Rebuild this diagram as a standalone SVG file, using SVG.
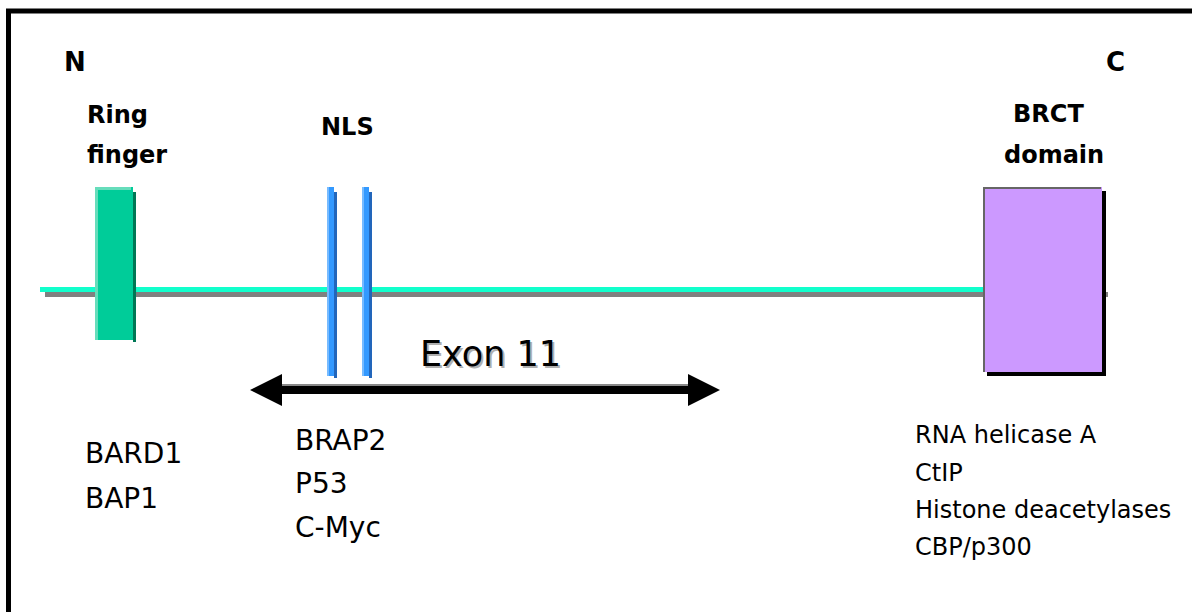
<svg xmlns="http://www.w3.org/2000/svg" width="1192" height="612" viewBox="0 0 1192 612">
  <style>
    .lbl { font-family: "DejaVu Sans", "Liberation Sans", sans-serif; font-weight: bold; font-size: 24px; fill: #000; }
    .nc { font-family: "DejaVu Sans", "Liberation Sans", sans-serif; font-weight: bold; font-size: 26px; fill: #000; }
    .big { font-family: "DejaVu Sans", "Liberation Sans", sans-serif; font-size: 28px; fill: #000; }
    .small { font-family: "DejaVu Sans", "Liberation Sans", sans-serif; font-size: 24px; fill: #000; }
    .exon { font-family: "DejaVu Sans", "Liberation Sans", sans-serif; font-size: 35px; fill: #000; }
    .shadow { fill: #b0b0b0; }
  </style>
  <defs>
    <marker id="head" viewBox="0 0 32 32" refX="2" refY="16" markerWidth="32" markerHeight="32" markerUnits="userSpaceOnUse" orient="auto-start-reverse">
      <path d="M0,0 L32,16 L0,32 Z" fill="#000"/>
    </marker>
  </defs>
  <rect width="1192" height="612" fill="#fff"/>
  <rect x="8.5" y="11" width="1200" height="700" fill="none" stroke="#000" stroke-width="5"/>

  <g id="backbone">
    <rect x="45" y="292" width="1063" height="5" fill="#808080"/>
    <rect x="40" y="287" width="945" height="5" fill="#11ffcc"/>
  </g>

  <g id="ring-finger">
    <rect x="133" y="192" width="3" height="150" fill="#007755"/>
    <rect x="95" y="187" width="38" height="153" fill="#00cc99"/>
    <rect x="95" y="187" width="3" height="153" fill="#66ddbb"/>
    <rect x="95" y="187" width="36" height="3" fill="#66ddbb"/>
    <text class="lbl" x="87" y="123">Ring</text>
    <text class="lbl" x="87" y="163">finger</text>
  </g>

  <g id="nls">
    <rect x="334" y="192" width="3" height="186" fill="#2266bb"/>
    <rect x="327" y="187" width="7" height="189" fill="#3399ff"/>
    <rect x="327" y="187" width="2" height="189" fill="#77bbff"/>
    <rect x="369" y="192" width="3" height="186" fill="#2266bb"/>
    <rect x="362" y="187" width="7" height="189" fill="#3399ff"/>
    <rect x="362" y="187" width="2" height="189" fill="#77bbff"/>
    <text class="lbl" x="321" y="135">NLS</text>
  </g>

  <g id="brct">
    <rect x="987" y="191" width="119" height="185" fill="#000"/>
    <rect x="983" y="187" width="119" height="185" fill="#cc99ff"/>
    <path d="M984,372 L984,188 L1101,188" fill="none" stroke="#666" stroke-width="2"/>
    <text class="lbl" x="1013" y="122">BRCT</text>
    <text class="lbl" x="1004" y="163">domain</text>
  </g>

  <g id="terminals">
    <text class="nc" x="64" y="71">N</text>
    <text class="nc" x="1106" y="71">C</text>
  </g>

  <g id="connectors">
    <line x1="278" y1="388" x2="692" y2="388" stroke="#888" stroke-width="8"/>
    <line x1="280" y1="390" x2="690" y2="390" stroke="#000" stroke-width="8" marker-start="url(#head)" marker-end="url(#head)"/>
  </g>

  <g id="exon11">
    <text class="exon shadow" x="422" y="368">Exon 11</text>
    <text class="exon" x="420" y="366">Exon 11</text>
  </g>

  <g id="ring-partners">
    <text class="big" x="85" y="463">BARD1</text>
    <text class="big" x="85" y="508">BAP1</text>
  </g>

  <g id="exon-partners">
    <text class="big" x="295" y="450">BRAP2</text>
    <text class="big" x="295" y="493">P53</text>
    <text class="big" x="295" y="537">C-Myc</text>
  </g>

  <g id="brct-partners">
    <text class="small" x="915" y="443">RNA helicase A</text>
    <text class="small" x="915" y="481">CtIP</text>
    <text class="small" x="915" y="518">Histone deacetylases</text>
    <text class="small" x="915" y="555">CBP/p300</text>
  </g>
</svg>
